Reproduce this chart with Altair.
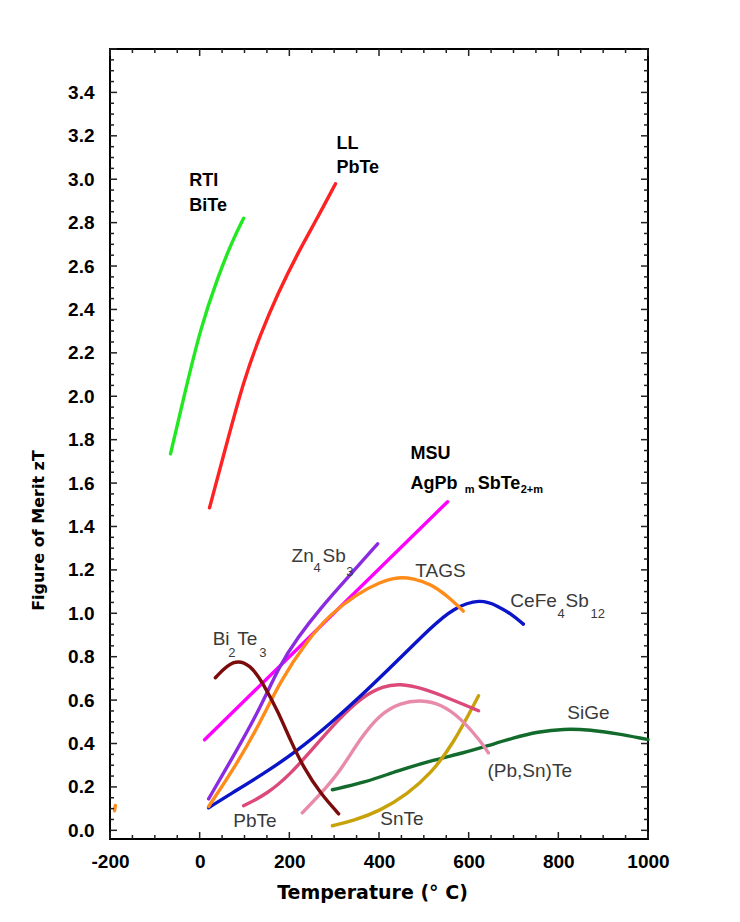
import altair as alt
import pandas as pd

# ---------------- data ----------------
RTI_BITE_T = [-65, -36, 2, 40, 73, 98]
RTI_BITE_ZT = [1.735, 1.99, 2.316, 2.546, 2.717, 2.82]

LL_PBTE_T = [22, 62, 98, 136, 174, 218, 263, 303]
LL_PBTE_ZT = [1.486, 1.795, 2.071, 2.288, 2.472, 2.657, 2.823, 2.979]

MSU_T = [11, 553]
MSU_ZT = [0.417, 1.514]

ZN4SB3_T = [20, 69, 129, 180, 218, 270, 330, 397]
ZN4SB3_ZT = [0.145, 0.32, 0.537, 0.767, 0.887, 1.025, 1.164, 1.32]

TAGS_T = [20, 69, 129, 180, 240, 292, 352, 403, 443, 477, 515, 553, 588]
TAGS_ZT = [0.11, 0.26, 0.47, 0.69, 0.874, 0.998, 1.09, 1.145, 1.168, 1.16, 1.135, 1.08, 1.01]

CEFE4SB12_T = [20, 69, 142, 218, 291, 365, 441, 515, 566, 626, 664, 700, 722]
CEFE4SB12_ZT = [0.104, 0.168, 0.26, 0.366, 0.491, 0.629, 0.781, 0.933, 1.025, 1.067, 1.035, 0.99, 0.95]

BI2TE3_T = [35, 75, 113, 142, 174, 203, 232, 270, 310]
BI2TE3_ZT = [0.703, 0.79, 0.765, 0.675, 0.551, 0.412, 0.288, 0.168, 0.076]

PBTE_T = [98, 151, 203, 254, 307, 359, 410, 448, 493, 553, 622]
PBTE_ZT = [0.113, 0.168, 0.26, 0.38, 0.505, 0.611, 0.666, 0.675, 0.657, 0.611, 0.551]

PBSNTE_T = [229, 270, 314, 359, 403, 448, 493, 537, 582, 626, 644]
PBSNTE_ZT = [0.081, 0.168, 0.274, 0.426, 0.537, 0.588, 0.601, 0.583, 0.518, 0.412, 0.357]

SNTE_T = [296, 343, 403, 464, 515, 566, 622]
SNTE_ZT = [0.021, 0.044, 0.09, 0.168, 0.26, 0.399, 0.62]

SIGE_T = [296, 366, 441, 515, 589, 642, 700, 754, 812, 872, 932, 990, 1000]
SIGE_ZT = [0.187, 0.219, 0.274, 0.32, 0.357, 0.389, 0.426, 0.454, 0.468, 0.463, 0.445, 0.422, 0.418]

# small orange stray mark near the left edge of the original figure
STRAY_T = [-190, -188]
STRAY_ZT = [0.09, 0.115]

SERIES = [
    ("stray", STRAY_T, STRAY_ZT, "#ff8c1a"),
    ("RTI BiTe", RTI_BITE_T, RTI_BITE_ZT, "#22e822"),
    ("LL PbTe", LL_PBTE_T, LL_PBTE_ZT, "#ff2222"),
    ("MSU", MSU_T, MSU_ZT, "#ff00ff"),
    ("SiGe", SIGE_T, SIGE_ZT, "#126b2c"),
    ("SnTe", SNTE_T, SNTE_ZT, "#c8a20a"),
    ("(Pb,Sn)Te", PBSNTE_T, PBSNTE_ZT, "#e88aaa"),
    ("PbTe", PBTE_T, PBTE_ZT, "#dc4a7a"),
    ("CeFe4Sb12", CEFE4SB12_T, CEFE4SB12_ZT, "#0a14c8"),
    ("TAGS", TAGS_T, TAGS_ZT, "#ff8c1a"),
    ("Zn4Sb3", ZN4SB3_T, ZN4SB3_ZT, "#8a2be2"),
    ("Bi2Te3", BI2TE3_T, BI2TE3_ZT, "#7b0c0c"),
]

X_LABELS = [-200, 0, 200, 400, 600, 800, 1000]
Y_LABELS = [round(0.2 * i, 1) for i in range(18)]
X_MAJOR = list(range(-200, 1001, 200))
X_MINOR = [v for v in range(-150, 1000, 50) if v % 200 != 0]
Y_MAJOR = [round(0.2 * i, 2) for i in range(19)]
Y_MINOR = [round(0.05 * i, 2) for i in range(73) if i % 4 != 0]

# annotation pieces: text, T, zT, style
LABELS = [
    ("RTI", -23, 2.993, "bold"), ("BiTe", -23, 2.878, "bold"),
    ("LL", 305, 3.164, "bold"), ("PbTe", 305, 3.053, "bold"),
    ("MSU", 470, 1.735, "bold"), ("AgPb", 470, 1.597, "bold"),
    ("m", 591, 1.569, "boldsub"), ("SbTe", 620, 1.597, "bold"),
    ("2+m", 716, 1.569, "boldsub"),
    ("Zn", 205, 1.265, "gray"), ("4", 254, 1.21, "sub"),
    ("Sb", 274, 1.265, "gray"), ("3", 327, 1.19, "sub"),
    ("TAGS", 481, 1.196, "gray"),
    ("CeFe", 693, 1.058, "gray"), ("4", 798, 0.998, "sub"),
    ("Sb", 816, 1.058, "gray"), ("12", 872, 0.998, "sub"),
    ("Bi", 29, 0.882, "gray"), ("2", 64, 0.818, "sub"),
    ("Te", 84, 0.882, "gray"), ("3", 133, 0.818, "sub"),
    ("SiGe", 820, 0.541, "gray"),
    ("(Pb,Sn)Te", 642, 0.274, "gray"),
    ("PbTe", 75, 0.044, "gray"),
    ("SnTe", 403, 0.053, "gray"),
]

# ---------------- build tables ----------------
rows = []
for name, ts, zs, _c in SERIES:
    for i, (t, z) in enumerate(zip(ts, zs)):
        rows.append({"series": name, "T": t, "zT": z, "order": i})
lines_df = pd.DataFrame(rows)
labels_df = pd.DataFrame(LABELS, columns=["text", "T", "zT", "style"])

W, H = 538, 790
xs = alt.Scale(domain=[-200, 1000], nice=False, zero=False)
ys = alt.Scale(domain=[-0.04, 3.6], nice=False, zero=False)

x_axis = alt.Axis(values=X_LABELS, labelExpr="'' + datum.value", ticks=False, domain=False, grid=False,
                  labelFlush=False, labelOverlap=False,
                  labelFont="Liberation Sans", labelFontSize=19, labelFontWeight="bold",
                  labelColor="black", labelPadding=13,
                  title="Temperature (° C)", titleFont="DejaVu Sans", titleFontSize=19,
                  titleFontWeight="bold", titleColor="black", titleX=262, titleY=44)
y_axis = alt.Axis(values=Y_LABELS, format=".1f", ticks=False, domain=False, grid=False,
                  labelFlush=False, labelOverlap=False,
                  labelFont="Liberation Sans Narrow, Liberation Sans", labelFontSize=19,
                  labelFontWeight="bold", labelColor="black", labelPadding=16,
                  title="Figure of Merit  zT", titleFont="DejaVu Sans", titleFontSize=16,
                  titleFontWeight="bold", titleColor="black", titleX=-64, titleY=481)

names = [s[0] for s in SERIES]
colors = [s[3] for s in SERIES]

lines = alt.Chart(lines_df).mark_line(strokeWidth=3.4, interpolate="basis", strokeCap="round").encode(
    x=alt.X("T:Q", scale=xs, axis=x_axis),
    y=alt.Y("zT:Q", scale=ys, axis=y_axis),
    color=alt.Color("series:N", scale=alt.Scale(domain=names, range=colors), legend=None),
    detail="series:N",
    order="order:Q",
)


def ticks(values, side, length):
    df = pd.DataFrame({"v": values})
    base = alt.Chart(df).mark_rule(color="#222222", strokeWidth=1.5)
    if side == "bottom":
        return base.encode(x=alt.X("v:Q", scale=xs), y=alt.value(H), y2=alt.value(H - length))
    if side == "top":
        return base.encode(x=alt.X("v:Q", scale=xs), y=alt.value(0), y2=alt.value(length))
    if side == "left":
        return base.encode(y=alt.Y("v:Q", scale=ys), x=alt.value(0), x2=alt.value(length))
    return base.encode(y=alt.Y("v:Q", scale=ys), x=alt.value(W), x2=alt.value(W - length))


tick_layers = []
for side in ["bottom", "top"]:
    tick_layers.append(ticks(X_MAJOR, side, 7))
    tick_layers.append(ticks(X_MINOR, side, 4))
for side in ["left", "right"]:
    tick_layers.append(ticks(Y_MAJOR, side, 7))
    tick_layers.append(ticks(Y_MINOR, side, 4))

STYLES = {
    "bold": dict(font="Liberation Sans", fontSize=18, fontWeight="bold", color="black"),
    "boldsub": dict(font="Liberation Sans", fontSize=11, fontWeight="bold", color="black"),
    "gray": dict(font="Liberation Sans", fontSize=19, color="#3a3a3a"),
    "sub": dict(font="Liberation Sans", fontSize=13, color="#3a3a3a"),
}
text_layers = []
for st, kw in STYLES.items():
    text_layers.append(
        alt.Chart(labels_df[labels_df["style"] == st]).mark_text(align="left", baseline="middle", **kw).encode(
            x=alt.X("T:Q", scale=xs), y=alt.Y("zT:Q", scale=ys), text="text:N"
        )
    )

chart = alt.layer(lines, *tick_layers, *text_layers).properties(
    width=W, height=H,
    padding={"left": 102, "top": 41, "right": 80, "bottom": 70},
    autosize=alt.AutoSizeParams(type="none"),
    background="white",
).configure_view(stroke="black", strokeWidth=2)

chart.save("out.html", embed_options={"renderer": "svg", "actions": False})
